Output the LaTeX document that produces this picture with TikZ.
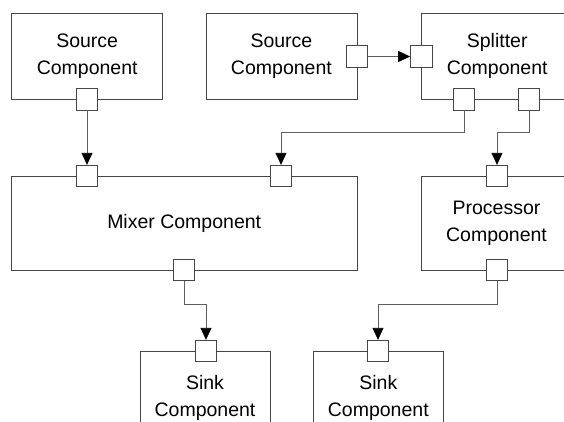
\documentclass[tikz,border=0pt]{standalone}
\usepackage{fontspec}
\setmainfont{Liberation Sans}
\usepackage{tikz}
\usetikzlibrary{arrows.meta,positioning}
\definecolor{compEdge}{RGB}{70,70,70}
\definecolor{wireGray}{RGB}{95,95,95}

\begin{document}
\begin{tikzpicture}[
    x=1pt, y=-1pt,
    every node/.style={font=\fontsize{19.5}{27}\selectfont},
    comp/.style={draw=compEdge, line width=0.8pt, fill=white, align=center, inner sep=0pt, minimum width=151pt, minimum height=86pt},
    port/.style={draw=compEdge, line width=0.8pt, fill=white, inner sep=0pt, minimum size=21.5pt},
    wire/.style={draw=wireGray, line width=0.8pt, -{Triangle[length=12pt,width=11pt,black]}}
]
\useasboundingbox (0,0) rectangle (564,421);
\clip (0,0) rectangle (564,421);

% components
\node[comp] (src1) at (87.2,56.3) {Source\\Component};
\node[comp] (src2) at (281.4,56.3) {Source\\Component};
\node[comp] (split) at (497.2,56.3) {Splitter\\Component};
\node[comp, minimum width=345.5pt, minimum height=94pt] (mix) at (184.2,223) {Mixer Component};
\node[comp, minimum height=94pt] (proc) at (496.5,223) {Processor\\Component};
\node[comp, minimum width=130pt, minimum height=94pt] (sinkA) at (205,398) {Sink\\Component};
\node[comp, minimum width=129.5pt, minimum height=94pt] (sinkB) at (378.3,398) {Sink\\Component};

% ports
\foreach \n/\x/\y in {src1out/87/99.3, src2out/357/56.5, splin/421.3/56.5,
    splout1/464/99.3, splout2/529/99.3, mixin1/87/176, mixin2/281/176,
    mixout/184/270, procin/497/176, procout/497/270,
    sinkAin/206/351, sinkBin/378/351} {
  \node[port] (\n) at (\x,\y) {};
}

% connectors
\foreach \a/\b in {src1out/mixin1, src2out/splin} \draw[wire] (\a)--(\b);
\draw[wire] (splout1.south) -- ++(0,21.5) -| (mixin2.north);
\draw[wire] (splout2.south) -- ++(0,21.5) -| (procin.north);
\draw[wire] (mixout.south) -- ++(0,23) -| (sinkAin.north);
\draw[wire] (procout.south) -- ++(0,23) -| (sinkBin.north);
\end{tikzpicture}
\end{document}
